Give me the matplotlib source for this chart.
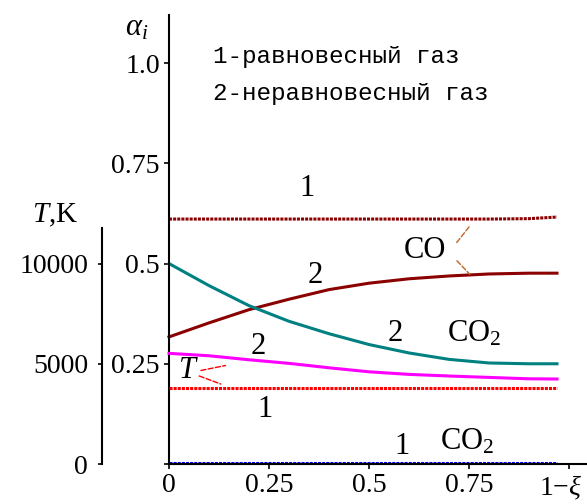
import matplotlib
matplotlib.use('Agg')
import matplotlib.pyplot as plt

plt.rcParams['font.family'] = 'Liberation Serif'
plt.rcParams['mathtext.fontset'] = 'custom'
plt.rcParams['mathtext.rm'] = 'Liberation Serif'
plt.rcParams['mathtext.it'] = 'Liberation Serif:italic'

# 1 - xi
x = [0, 0.1, 0.2, 0.3, 0.4, 0.5, 0.6, 0.7, 0.8, 0.9, 0.97]

# mole fractions alpha_i
co_eq = [0.611, 0.611, 0.611, 0.611, 0.611, 0.611, 0.611, 0.611, 0.611, 0.612, 0.616]
co_neq = [0.317, 0.352, 0.385, 0.411, 0.435, 0.451, 0.462, 0.469, 0.474, 0.476, 0.476]
co2_eq = [0.002, 0.002, 0.002, 0.002, 0.002, 0.002, 0.002, 0.002, 0.002, 0.002, 0.002]
co2_neq = [0.500, 0.445, 0.395, 0.356, 0.325, 0.298, 0.277, 0.261, 0.252, 0.250, 0.250]

# temperature, K
t_eq = [3800, 3800, 3800, 3800, 3800, 3800, 3800, 3800, 3800, 3800, 3800]
t_neq = [5520, 5400, 5200, 5020, 4800, 4600, 4470, 4390, 4320, 4250, 4240]

x_ticks = [0, 0.25, 0.5, 0.75, 1.0]
x_labels = ['0', '0.25', '0.5', '0.75', '']
a_ticks = [0, 0.25, 0.5, 0.75, 1.0]
a_labels = ['', '0.25', '0.5', '0.75', '1.0']
t_ticks = [0, 5000, 10000]
t_labels = ['0', '5000', '10000']

dot = (0, (1, 0.35))
lw = 2.2

fig = plt.figure(figsize=(5.87, 5.04), dpi=100)
rect = [169 / 587, 40 / 504, 418 / 587, 449 / 504]
ax = fig.add_axes(rect)
ax.set_xlim(0, 1.045)
ax.set_ylim(0, 1.12)
for s in ['top', 'right']:
    ax.spines[s].set_visible(False)
for s in ['left', 'bottom']:
    ax.spines[s].set_linewidth(1.5)
ax.tick_params(direction='out', length=3.6, width=1.2, labelsize=20, pad=3)
ax.set_xticks(x_ticks)
ax.set_xticklabels(x_labels)
ax.set_yticks(a_ticks)
ax.set_yticklabels(a_labels)

# temperature axis, same height scale: 5000 K <-> 0.25
ax2 = fig.add_axes(rect)
ax2.patch.set_visible(False)
ax2.set_xlim(0, 1.045)
ax2.set_ylim(0, 22400)
for s in ['top', 'right', 'bottom']:
    ax2.spines[s].set_visible(False)
ax2.spines['left'].set_position(('data', -0.1675))
ax2.spines['left'].set_bounds(0, 11750)
ax2.spines['left'].set_linewidth(1.5)
ax2.set_xticks([])
ax2.set_yticks(t_ticks)
ax2.set_yticklabels(t_labels)
ax2.tick_params(direction='out', length=3, width=1.2, labelsize=20, pad=7)

ax.plot(x, co_eq, color='#8B0000', lw=lw, ls=dot, clip_on=False)
ax.plot(x, co_neq, color='#8B0000', lw=lw, clip_on=False)
ax.plot(x, co2_neq, color='#008080', lw=lw, clip_on=False)
ax.plot(x, co2_eq, color='#0000FF', lw=lw, ls=dot, clip_on=False)
ax2.plot(x, t_neq, color='#FF00FF', lw=lw, clip_on=False)
ax2.plot(x, t_eq, color='#FF0000', lw=lw, ls=dot, clip_on=False)

# axis titles
ax.text(-0.08, 1.087, r'$\alpha_i$', fontsize=22, ha='center', va='center')
ax.text(-0.285, 0.621, r'$T$,K', fontsize=21, ha='center', va='center')
ax.text(0.98, -0.06, '1\u2212$\\xi$', fontsize=20, ha='center', va='center')

# legend text
ax.text(0.11, 1.016, '1-равновесный газ', family='Liberation Mono',
        fontsize=17.5, ha='left', va='center')
ax.text(0.11, 0.924, '2-неравновесный газ', family='Liberation Mono',
        fontsize=17.5, ha='left', va='center')

# curve labels
ax.text(0.344, 0.687, '1', fontsize=22, ha='center', va='center')
ax.text(0.365, 0.471, '2', fontsize=22, ha='center', va='center')
ax.text(0.565, 0.326, '2', fontsize=22, ha='center', va='center')
ax.text(0.223, 0.292, '2', fontsize=22, ha='center', va='center')
ax.text(0.24, 0.135, '1', fontsize=22, ha='center', va='center')
ax.text(0.582, 0.043, '1', fontsize=22, ha='center', va='center')
ax.text(0.64, 0.533, 'CO', fontsize=22, ha='center', va='center')
ax.text(0.694, 0.305, r'CO$_2$', fontsize=22, ha='left', va='baseline')
ax.text(0.6775, 0.035, r'CO$_2$', fontsize=22, ha='left', va='baseline')
ax.text(0.048, 0.234, r'$T$', fontsize=22, ha='center', va='center')

# leader lines
lead = dict(arrowstyle='-', color='#C0662A', lw=1, ls='--')
ax.annotate('', xy=(0.757, 0.600), xytext=(0.715, 0.547), arrowprops=lead)
ax.annotate('', xy=(0.757, 0.468), xytext=(0.715, 0.512), arrowprops=lead)
lead_t = dict(arrowstyle='-', color='#FF0000', lw=1, ls='--')
ax.annotate('', xy=(0.148, 0.247), xytext=(0.073, 0.232), arrowprops=lead_t)
ax.annotate('', xy=(0.136, 0.197), xytext=(0.069, 0.222), arrowprops=lead_t)

fig.savefig('out.png', dpi=100)
